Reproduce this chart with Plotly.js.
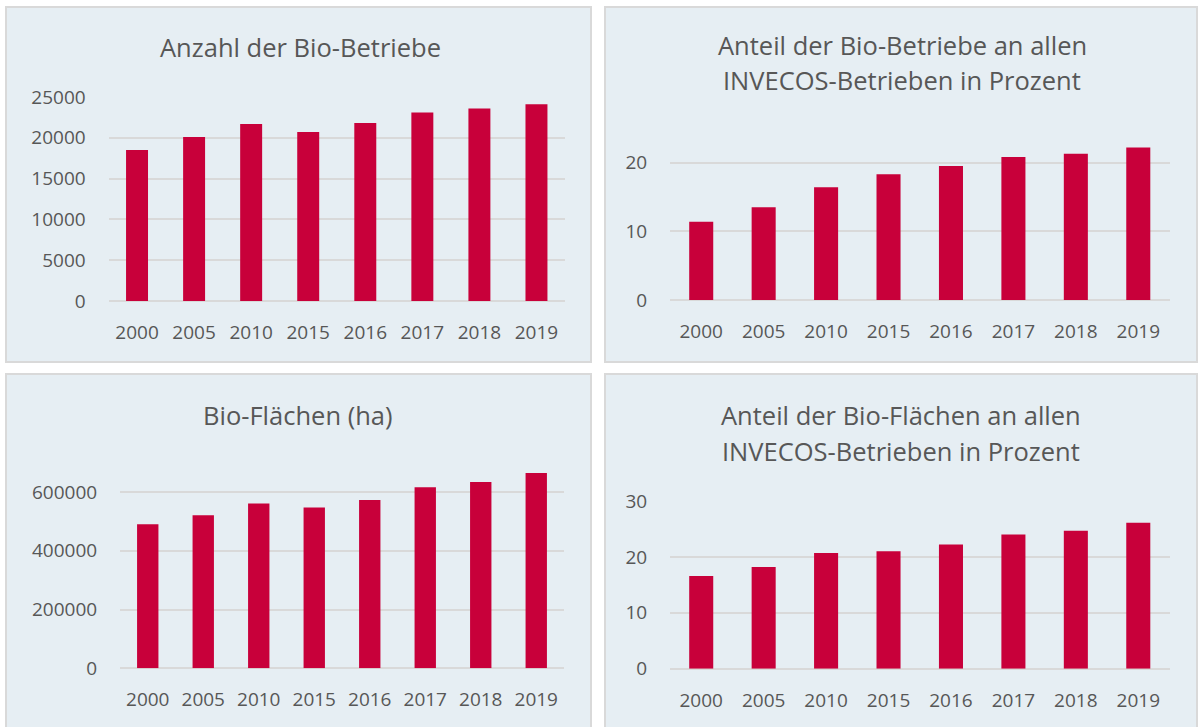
<!DOCTYPE html>
<html>
<head>
<meta charset="utf-8">
<script src="https://cdn.plot.ly/plotly-3.0.1.min.js"></script>
<style>html,body{margin:0;padding:0;background:#fff;}#chart{width:1198px;height:727px;}</style>
</head>
<body>
<div id="chart"></div>
<script>
// ---- Data ----
const years = ['2000', '2005', '2010', '2015', '2016', '2017', '2018', '2019'];
const bioBetriebe = [18500, 20100, 21700, 20700, 21800, 23100, 23600, 24100];
const anteilBetriebe = [11.4, 13.5, 16.4, 18.3, 19.5, 20.8, 21.3, 22.2];
const bioFlaechen = [490000, 521000, 561000, 547000, 573000, 616000, 634000, 665000];
const anteilFlaechen = [16.6, 18.2, 20.7, 21.0, 22.2, 24.0, 24.7, 26.1];

const titleBetriebe = 'Anzahl der Bio-Betriebe';
const titleAnteilBetriebe = ['Anteil der Bio-Betriebe an allen', 'INVECOS-Betrieben in Prozent'];
const titleFlaechen = 'Bio-Flächen (ha)';
const titleAnteilFlaechen = ['Anteil der Bio-Flächen an allen', 'INVECOS-Betrieben in Prozent'];

// ---- Geometry helpers (pixel -> paper) ----
const W = 1198, H = 727;
const px = v => v / W;
const py = v => 1 - v / H;

const FONT = '"Open Sans", "Noto Sans", sans-serif';
const TXT = '#575757';
const BAR = '#c8003a';
const GRID = '#d9d9d9';
const PANEL = '#e6eef3';

const panels = [
  {x0: 6, x1: 591, y0: 7, y1: 362},
  {x0: 605, x1: 1197, y0: 7, y1: 362},
  {x0: 6, x1: 591, y0: 374, y1: 728},
  {x0: 605, x1: 1197, y0: 374, y1: 728}
];

const shapes = panels.map(p => ({
  type: 'rect', xref: 'paper', yref: 'paper', layer: 'below',
  x0: px(p.x0), x1: px(p.x1), y0: py(p.y1), y1: py(p.y0),
  fillcolor: PANEL, line: {color: GRID, width: 2}
}));

function bar(y, xa, ya) {
  return {type: 'bar', x: years, y: y, xaxis: xa, yaxis: ya,
    width: 0.385, marker: {color: BAR, line: {width: 0}}, hoverinfo: 'skip'};
}

const data = [
  bar(bioBetriebe, 'x', 'y'),
  bar(anteilBetriebe, 'x2', 'y2'),
  bar(bioFlaechen, 'x3', 'y3'),
  bar(anteilFlaechen, 'x4', 'y4')
];

function xax(l, r) {
  return {domain: [px(l), px(r)], type: 'category', showgrid: false, zeroline: false,
    showline: false, ticks: 'outside', ticklen: 14, tickcolor: 'rgba(0,0,0,0)',
    tickfont: {family: FONT, size: 19, color: TXT}, fixedrange: true};
}
function yax(top, bottom, range, dtick) {
  return {domain: [py(bottom), py(top)], range: range, dtick: dtick, tick0: 0,
    tickformat: 'd', showgrid: true, gridcolor: GRID, gridwidth: 2,
    zeroline: true, zerolinecolor: GRID, zerolinewidth: 2, showline: false,
    ticks: 'outside', ticklen: 18, tickcolor: 'rgba(0,0,0,0)',
    tickfont: {family: FONT, size: 19, color: TXT}, fixedrange: true};
}

function ann(text, x, y) {
  return {text: text, xref: 'paper', yref: 'paper', x: px(x), y: py(y),
    xanchor: 'center', yanchor: 'middle', showarrow: false,
    font: {family: FONT, size: 25.5, color: TXT}};
}

const annotations = [
  ann(titleBetriebe, 300, 47),
  ann(titleAnteilBetriebe[0], 902, 45),
  ann(titleAnteilBetriebe[1], 902, 80),
  ann(titleFlaechen, 298, 415),
  ann(titleAnteilFlaechen[0], 901, 415),
  ann(titleAnteilFlaechen[1], 901, 451)
];

const layout = {
  width: W, height: H, margin: {l: 0, r: 0, t: 0, b: 0},
  paper_bgcolor: '#ffffff', plot_bgcolor: 'rgba(0,0,0,0)',
  showlegend: false, shapes: shapes, annotations: annotations,
  font: {family: FONT, color: TXT},
  xaxis: xax(108.5, 565), yaxis: yax(97, 301, [0, 25000], 5000),
  xaxis2: Object.assign(xax(670, 1169.5), {anchor: 'y2'}), yaxis2: Object.assign(yax(128.2, 300, [0, 25], 10), {anchor: 'x2'}),
  xaxis3: Object.assign(xax(120, 564), {anchor: 'y3'}), yaxis3: Object.assign(yax(462.6, 668.3, [0, 700000], 200000), {anchor: 'x3'}),
  xaxis4: Object.assign(xax(670, 1169.5), {anchor: 'y4'}), yaxis4: Object.assign(yax(501, 668.7, [0, 30], 10), {anchor: 'x4'})
};
layout.xaxis.anchor = 'y';
layout.yaxis.anchor = 'x';

Plotly.newPlot('chart', data, layout, {staticPlot: true, displayModeBar: false});
</script>
</body>
</html>
